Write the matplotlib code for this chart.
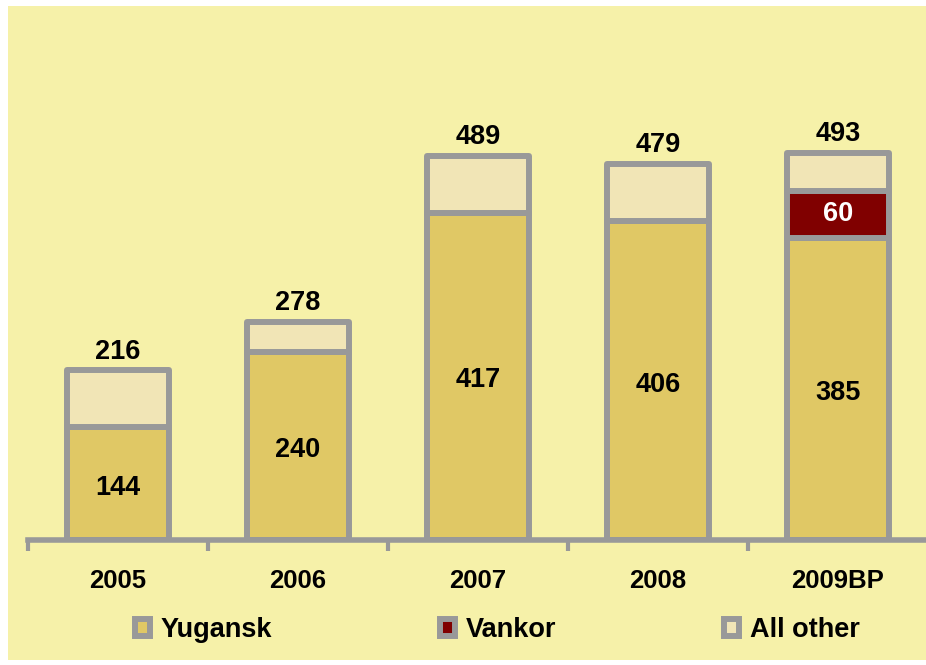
import matplotlib
matplotlib.use("Agg")
import matplotlib.pyplot as plt
from matplotlib.patches import Rectangle
import numpy as np

plt.rcParams['font.family'] = ['Liberation Sans', 'DejaVu Sans']

categories = ["2005", "2006", "2007", "2008", "2009BP"]
yugansk = [144, 240, 417, 406, 385]
vankor = [0, 0, 0, 0, 60]
all_other = [72, 38, 72, 73, 48]
totals = [216, 278, 489, 479, 493]

c_yug = "#E0C865"
c_van = "#800000"
c_oth = "#F1E5B6"
c_edge = "#999999"
c_bg = "#F6F1A9"

W, H = 926, 665
fig = plt.figure(figsize=(W / 100, H / 100), dpi=100)
fig.patch.set_facecolor("white")
fig.add_artist(Rectangle((8 / W, 5 / H), (W - 8) / W, (H - 11) / H,
                         transform=fig.transFigure, facecolor=c_bg,
                         edgecolor="none", zorder=-10))

ax = fig.add_axes([28 / W, 125 / H, 900 / W, 534 / H])
ax.set_facecolor("none")
x = np.arange(len(categories))
width = 0.57
lw = 4.3
kw = dict(width=width, edgecolor=c_edge, linewidth=lw, joinstyle="round", zorder=3)

y = np.array(yugansk, dtype=float)
v = np.array(vankor, dtype=float)
o = np.array(all_other, dtype=float)

b1 = ax.bar(x, y, color=c_yug, label="Yugansk", **kw)
mask = v > 0
b2 = ax.bar(x[mask], v[mask], bottom=y[mask], color=c_van, label="Vankor", **kw)
b3 = ax.bar(x, o, bottom=y + v, color=c_oth, label="All other", **kw)

fs = 19.5
for i in range(len(x)):
    ax.annotate(str(yugansk[i]), (x[i], y[i] / 2), xytext=(0, -3),
                textcoords="offset points", ha="center", va="center",
                fontsize=fs, fontweight="bold", color="black", zorder=5)
    if vankor[i] > 0:
        ax.text(x[i], y[i] + v[i] / 2, str(vankor[i]), ha="center", va="center",
                fontsize=fs, fontweight="bold", color="white", zorder=5)
    ax.annotate(str(totals[i]), (x[i], totals[i]), xytext=(0, 4),
                textcoords="offset points", ha="center", va="bottom",
                fontsize=fs, fontweight="bold", color="black", zorder=5)

ax.set_xlim(-0.5, 4.5)
ax.set_ylim(0, 680)
for s in ["top", "right", "left"]:
    ax.spines[s].set_visible(False)
ax.spines["bottom"].set_color(c_edge)
ax.spines["bottom"].set_linewidth(4)
ax.spines["bottom"].set_zorder(4)
ax.set_yticks([])
ax.set_xticks(x)
ax.set_xticklabels(categories, fontsize=18.5, fontweight="bold")
ax.tick_params(axis="x", which="major", length=0, pad=21)
ax.set_xticks(np.arange(-0.5, 4.5, 1.0), minor=True)
ax.tick_params(axis="x", which="minor", length=8, width=3, color=c_edge)

leg = fig.legend(handles=[b1, b2, b3], labels=["Yugansk", "Vankor", "All other"],
                 loc="center left", bbox_to_anchor=(135 / W, 1 - 630 / H),
                 ncol=3, frameon=False, prop={"weight": "bold", "size": 19.5},
                 handlelength=0.55, handleheight=0.55, handletextpad=0.4,
                 columnspacing=6.2, borderpad=0, borderaxespad=0)

fig.savefig("out.png", dpi=100, facecolor=fig.get_facecolor())
